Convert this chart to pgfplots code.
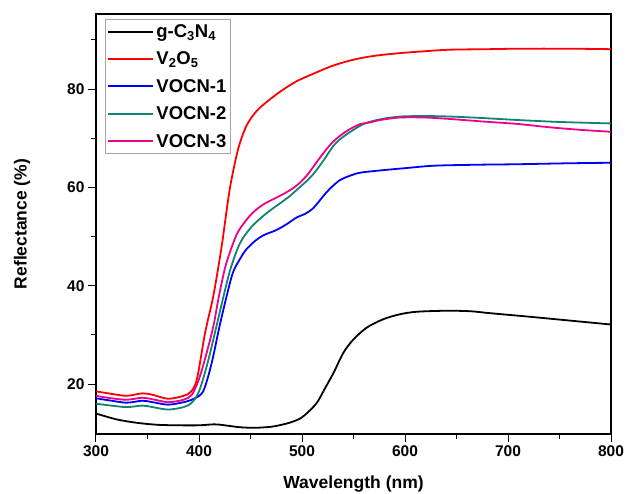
\documentclass[border=0pt]{standalone}
\usepackage{fontspec}
\setmainfont{Liberation Sans}
\usepackage{pgfplots}
\pgfplotsset{compat=1.18}
\definecolor{cteal}{RGB}{20,130,115}
\begin{document}
\begin{tikzpicture}
\begin{axis}[
  scale only axis, width=515pt, height=420pt,
  xmin=300, xmax=800, ymin=9.83, ymax=95.26,
  xtick={300,400,...,800}, ytick={20,40,60,80},
  minor xtick={350,450,...,750}, minor ytick={30,50,70,90},
  tick pos=left, tick align=outside,
  major tick length=8pt, minor tick length=5pt,
  every tick/.style={black, line width=1pt},
  axis line style={line width=1.2pt},
  tick label style={font=\fontsize{15.5}{18}\selectfont\bfseries},
  /pgf/number format/assume math mode=true,
  xlabel={Wavelength (nm)}, ylabel={Reflectance (\%)},
  every axis x label/.style={at={(axis description cs:0.5,-0.119)},anchor=center,font=\fontsize{17.5}{20}\selectfont\bfseries},
  every axis y label/.style={at={(axis description cs:-0.1437,0.5)},rotate=90,anchor=center,font=\fontsize{17.5}{20}\selectfont\bfseries},
  legend style={at={(axis description cs:0.0175,0.988)}, anchor=north west,
    draw=gray!70, line width=0.8pt, font=\fontsize{18.5}{21}\selectfont\bfseries,
    inner xsep=2pt, inner ysep=3pt, row sep=9pt},
  legend cell align=left,
  legend image code/.code={\draw[#1, line width=2pt] (0pt,0pt) -- (45pt,0pt);},
]
\addplot[black, line width=1.8pt, smooth, tension=0.5] coordinates {(300,14.0) (320,12.8) (340,12.1) (360,11.7) (380,11.6) (400,11.6) (415,11.8) (425,11.6) (440,11.2) (455,11.1) (470,11.3) (480,11.7) (489,12.2) (498.3,13.0) (506,14.3) (514.5,16.2) (522,19.0) (530.7,22.3) (540.3,26.4) (550.1,29.1) (563.1,31.5) (579.2,33.2) (595.4,34.2) (611.7,34.7) (640,34.9) (663.5,34.8) (682.9,34.4) (720,33.7) (760,32.9) (800,32.1)};
\addlegendentry{g-C\textsubscript{3}N\textsubscript{4}}
\addplot[red, line width=1.8pt, smooth, tension=0.5] coordinates {(300,18.5) (315,18.0) (330,17.6) (345,18.1) (355,17.8) (370,17.0) (385,17.6) (392,18.4) (398,21) (406,30.5) (414,38) (422,48) (427,55.6) (431,61) (438,67.8) (446,72.5) (455,75.3) (463,76.9) (479,79.5) (495,81.6) (511,83.1) (528,84.6) (545,85.7) (560,86.4) (576,86.9) (595,87.3) (620,87.7) (644,88.0) (680,88.1) (710,88.2) (760,88.2) (800,88.1)};
\addlegendentry{V\textsubscript{2}O\textsubscript{5}}
\addplot[blue, line width=1.8pt, smooth, tension=0.5] coordinates {(300,17.1) (315,16.6) (330,16.2) (345,16.6) (355,16.3) (370,15.8) (385,16.3) (395,17.0) (404,18.5) (412,24) (420,31.8) (427,38) (433,42.7) (440,45.5) (446,47.4) (455,49.2) (463,50.3) (475,51.3) (485,52.5) (495,53.9) (503,54.6) (510,55.6) (516,57.0) (523,58.8) (530,60.3) (537,61.5) (547,62.4) (557,63) (579,63.5) (600,63.9) (628,64.4) (670,64.6) (709,64.7) (760,64.9) (800,65.0)};
\addlegendentry{VOCN-1}
\addplot[cteal, line width=1.8pt, smooth, tension=0.5] coordinates {(300,16.0) (315,15.6) (330,15.3) (345,15.6) (355,15.3) (370,14.8) (385,15.3) (393,16.2) (400,18.5) (408,24) (417,31.8) (424,38) (430,43) (437,47.3) (443,49.8) (452,52.2) (463,54.3) (471,55.6) (479,56.8) (488,58.2) (495,59.5) (503,61) (511,62.7) (521,65.5) (530,68.3) (537,69.8) (547,71.3) (560,72.9) (575,73.8) (595,74.4) (620,74.5) (644,74.4) (675,74.1) (709,73.7) (750,73.3) (800,73.0)};
\addlegendentry{VOCN-2}
\addplot[magenta, line width=1.8pt, smooth, tension=0.5] coordinates {(300,17.6) (315,17.1) (330,16.8) (345,17.2) (355,16.9) (370,16.3) (385,16.8) (393,17.8) (400,21) (407,26) (414,31.8) (419,37.5) (425,43.4) (430,46.8) (437,50.6) (445,53.1) (453,55.0) (463,56.6) (475,57.9) (485,59.0) (495,60.4) (505,62.5) (518,66.2) (528,68.8) (537,70.5) (547,71.9) (557,72.9) (566,73.2) (576,73.7) (595,74.2) (620,74.2) (644,73.9) (675,73.4) (709,72.9) (741,72.2) (770,71.7) (800,71.3)};
\addlegendentry{VOCN-3}
\end{axis}
\pgfresetboundingbox
\path ([shift={(-96pt,-59pt)}]current axis.south west) rectangle ([shift={(17pt,14pt)}]current axis.north east);
\end{tikzpicture}
\end{document}
